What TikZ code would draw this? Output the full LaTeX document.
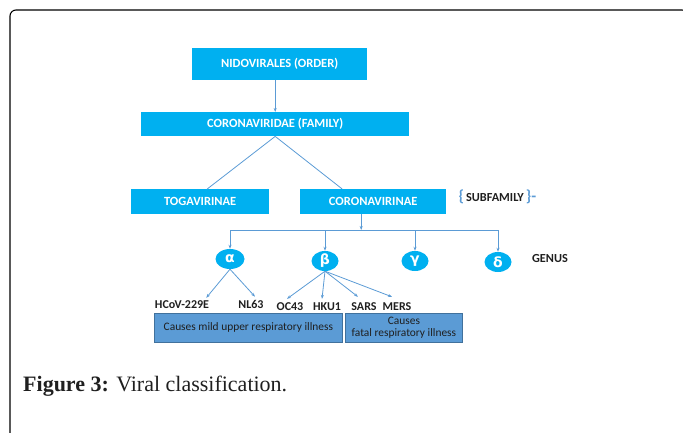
\documentclass[tikz,border=0pt]{standalone}
\usepackage{fontspec}
\setmainfont{Liberation Serif}
\setsansfont{Carlito}
\newfontfamily\greekfont{DejaVu Sans}
\usetikzlibrary{arrows.meta,shapes.geometric}
\definecolor{cyanbox}{HTML}{00B0F0}
\definecolor{linkblue}{HTML}{5B9BD5}
\definecolor{illbox}{HTML}{5B9BD5}
\definecolor{illedge}{HTML}{41719C}
\definecolor{darktext}{HTML}{1F1F1F}
\tikzset{
  taxon/.style={fill=cyanbox, text=white, font=\sffamily\bfseries\fontsize{12.5}{14}\selectfont,
    inner sep=0pt, anchor=north west},
  genus/.style={ellipse, fill=cyanbox, text=white, font=\greekfont\bfseries\fontsize{14}{14}\selectfont,
    minimum width=27pt, minimum height=20pt, inner sep=0pt},
  strain/.style={font=\sffamily\bfseries\fontsize{12}{13}\selectfont, text=darktext, inner sep=0pt},
  illness/.style={fill=illbox, draw=illedge, line width=0.8pt, text=darktext,
    font=\sffamily\fontsize{11.4}{11.5}\selectfont, align=center, inner sep=0pt, anchor=north west},
  link/.style={draw=linkblue, line width=0.8pt},
  linkarrow/.style={link, -{Stealth[length=4pt,width=3pt]}}
}
\newcommand{\bracetext}[1]{{\color{linkblue}\fontsize{16}{16}\selectfont\{}\,#1\,{\color{linkblue}\fontsize{16}{16}\selectfont\}-}}
\begin{document}
\begin{tikzpicture}[x=1pt,y=-1pt]
\useasboundingbox (0,0) rectangle (683,433);
% frame
\draw[line width=1.1pt, rounded corners=6pt] (10,445) -- (10,10) -- (688,10) -- (688,445);

% taxonomy boxes
\node[taxon, minimum width=175pt, minimum height=32pt] (order) at (192,48) {NIDOVIRALES (ORDER)};
\node[taxon, minimum width=268pt, minimum height=24pt] (family) at (141,112) {CORONAVIRIDAE (FAMILY)};
\node[taxon, minimum width=138pt, minimum height=25pt] (toga) at (131,189) {TOGAVIRINAE};
\node[taxon, minimum width=146pt, minimum height=25pt] (corona) at (300,189) {CORONAVIRINAE};

\node[font=\sffamily\bfseries\fontsize{12.3}{13}\selectfont, text=darktext, anchor=west] (subfam) at (455,197)
  {\bracetext{SUBFAMILY}};
\node[font=\sffamily\bfseries\fontsize{12.3}{13}\selectfont, text=darktext] (genuslabel) at (550,259) {GENUS};

% genus ellipses
\node[genus, minimum width=29pt] (alpha) at (230,259) {α};
\node[genus] (beta) at (325,261) {β};
\node[genus] (gamma) at (415,261) {γ};
\node[genus] (delta) at (498,262) {δ};

% strains
\node[strain] (hcov) at (182,305) {HCoV-229E};
\node[strain] (nl) at (251,304) {NL63};
\node[strain] (oc) at (290,307) {OC43};
\node[strain] (hku) at (327,307) {HKU1};
\node[strain] (sars) at (364,307) {SARS};
\node[strain] (mers) at (397,307) {MERS};

% illness boxes
\node[illness, minimum width=188pt, minimum height=29pt] (mild) at (154,313) {Causes mild upper respiratory illness};
\node[illness, minimum width=117pt, minimum height=29pt] (fatal) at (345,313) {Causes\\fatal respiratory illness};

% connectors
\draw[linkarrow] (order.south -| family.north) -- (family.north);
\draw[link] (family.south) -- ([xshift=7pt]toga.north);
\draw[link] (family.south) -- ([xshift=-31pt]corona.north);

\coordinate (busmid) at ([xshift=-12pt]corona.south |- 0,230);
\coordinate (busleft) at (alpha |- busmid);
\coordinate (busright) at (delta |- busmid);
\draw[linkarrow] ([xshift=-12pt]corona.south) -- (busmid);
\draw[link] (busleft) -- (busright);
\foreach \g in {alpha,beta,gamma,delta}
  \draw[linkarrow] (\g |- busmid) -- (\g.north);

\draw[linkarrow] (alpha.south) -- ([xshift=-3pt,yshift=3pt]hcov.north east);
\draw[linkarrow] (alpha.south) -- ([xshift=4pt,yshift=3pt]nl.north);
\draw[linkarrow] (beta.south) -- ([xshift=-3pt,yshift=4pt]oc.north);
\draw[linkarrow] (beta.south) -- ([xshift=-5pt,yshift=4pt]hku.north);
\draw[linkarrow] (beta.south) -- ([xshift=-6pt,yshift=6pt]sars.north);
\draw[linkarrow] (beta.south) -- ([xshift=-5pt,yshift=6pt]mers.north);

% caption
\node[anchor=base west, inner sep=0pt, font=\fontsize{22}{24}\selectfont, text=darktext] (caption) at (23,391)
  {\textbf{Figure 3:} Viral classification.};
\end{tikzpicture}
\end{document}
